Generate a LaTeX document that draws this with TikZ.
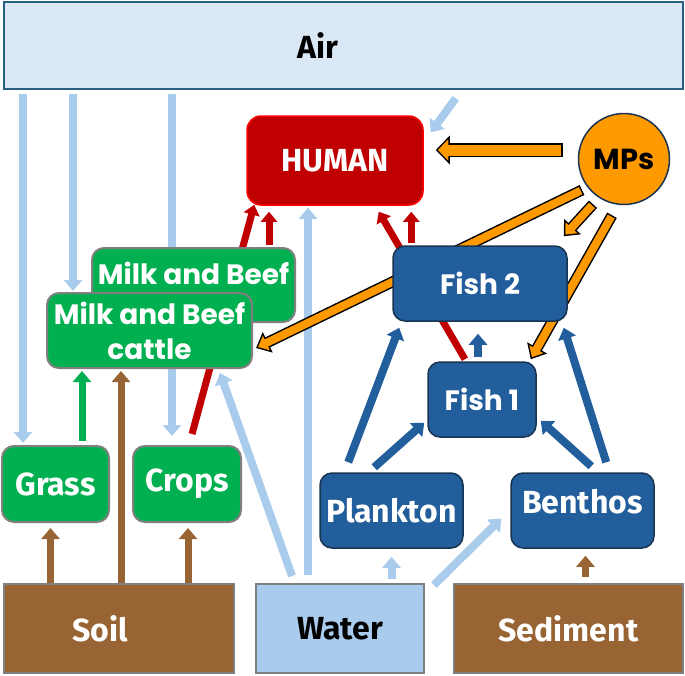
\documentclass[tikz,border=0pt]{standalone}
\usepackage{fontspec}
\setmainfont{Fira Sans}
\newfontfamily\popfont{Poppins}
\usepackage{tikz}
\usetikzlibrary{arrows.meta,calc,positioning,shapes}
\definecolor{aire}{RGB}{218,232,246}
\definecolor{aireBorde}{RGB}{40,96,130}
\definecolor{celeste}{RGB}{169,203,236}
\definecolor{rojo}{RGB}{192,0,0}
\definecolor{naranja}{RGB}{255,153,0}
\definecolor{verde}{RGB}{0,176,80}
\definecolor{azul}{RGB}{34,94,155}
\definecolor{azulOscuro}{RGB}{24,52,80}
\definecolor{marron}{RGB}{153,100,51}
\definecolor{grisBorde}{RGB}{128,128,128}
\pgfdeclarelayer{background}
\pgfsetlayers{background,main}
\tikzstyle{box}      =[rectangle, rounded corners=12pt, line width=1.5pt,
                       inner sep=0pt, align=center, text=white,
                       font=\fontsize{32pt}{38pt}\selectfont\bfseries]
\tikzstyle{pop}      =[font=\popfont\fontsize{28pt}{35pt}\selectfont\bfseries]
\tikzstyle{greenbox} =[box, fill=verde, draw=grisBorde, line width=2pt]
\tikzstyle{bluebox}  =[box, fill=azul, draw=azulOscuro]
\tikzstyle{groundbox}=[box, rounded corners=0pt, draw=grisBorde, line width=2pt,
                       minimum width=229pt, minimum height=89pt]
\tikzstyle{flow}     =[line width=8pt, -{Triangle[length=11pt,width=18pt]}]
\tikzstyle{airflow}  =[flow, celeste]
\tikzstyle{soilflow} =[flow, marron, line width=7pt]
\tikzstyle{eatflow}  =[flow, rojo, line width=7pt, -{Triangle[length=10pt,width=16pt]}]
\tikzstyle{fishflow} =[flow, azul]
\tikzstyle{mpsback}  =[black, line width=11pt, -{Triangle[length=13pt,width=22pt]}]
\tikzstyle{mpsfront} =[naranja, line width=8pt, shorten <=1.5pt, shorten >=2.3pt,
                       -{Triangle[length=9.2pt,width=15.6pt]}]

\begin{document}
\begin{tikzpicture}[x=1pt,y=-1pt]
    \useasboundingbox (0,0) rectangle (685,675);

    % compartments
    \draw (343.5,45.5) node (air) [box, rounded corners=0pt, fill=aire, draw=aireBorde,
        line width=2.5pt, text=black, minimum width=679pt, minimum height=87pt] {Air\hspace*{52pt}};
    \draw (335,160.5) node (human) [box, rounded corners=14pt, fill=rojo, draw=red,
        minimum width=176pt, minimum height=89pt] {HUMAN};
    \draw (624,159) node (mps) [circle, draw=azulOscuro, line width=1.5pt, fill=naranja,
        minimum size=91pt, inner sep=0pt,
        font=\popfont\fontsize{29pt}{35pt}\selectfont\bfseries] {MPs};

    \draw (193.5,285) node (beef) [greenbox, pop, minimum width=203pt, minimum height=74pt,
        text depth=23pt] {Milk and Beef};
    \draw (149.5,330.5) node (cattle) [greenbox, pop, minimum width=205pt,
        minimum height=75pt] {Milk and Beef\\cattle};
    \draw (55.5,484) node (grass) [greenbox, minimum width=107pt, minimum height=76pt] {Grass};
    \draw (187,484) node (crops) [greenbox, minimum width=108pt, minimum height=76pt] {Crops};

    \draw (480,283.5) node (fish2) [bluebox, pop, minimum width=174pt, minimum height=75pt] {Fish 2};
    \draw (482,399.5) node (fish1) [bluebox, pop, minimum width=108pt, minimum height=75pt] {Fish 1};
    \draw (391.5,510.5) node (plankton) [bluebox, minimum width=143pt, minimum height=75pt] {Plankton};
    \draw (582.5,510.5) node (benthos) [bluebox, minimum width=143pt, minimum height=75pt,
        text depth=18pt] {Benthos};

    \draw (119,628.5) node (soil) [groundbox, fill=marron, minimum width=230pt] {Soil\hspace*{38pt}};
    \draw (340,628.5) node (water) [groundbox, fill=celeste, text=black, minimum width=168pt] {Water};
    \draw (568.5,628.5) node (sediment) [groundbox, fill=marron] {Sediment};

    % end points of the transfers
    \coordinate (a1) at ($(grass.north west)+(22,-2)$);
    \coordinate (a2) at ($(cattle.north west)+(27,-1)$);
    \coordinate (a3) at ($(crops.north west)+(40,-9)$);
    \coordinate (w1) at ($(water.north west)+(53,-8)$);
    \coordinate (b1) at ($(grass.south)+(-5,0)$);
    \coordinate (b2) at ($(cattle.south west)+(75,0)$);
    \coordinate (b3) at ($(crops.south)+(1,0)$);
    \coordinate (b4) at ($(benthos.south)+(3,0)$);
    \coordinate (g1) at ($(grass.north west)+(81,0)$);
    \coordinate (r2) at ($(beef.north west)+(178,0)$);
    \coordinate (r3) at ($(fish2.north west)+(19,0)$);
    \coordinate (f1) at ($(fish1.north)+(-4,-4)$);
    \coordinate (m1) at ($(mps.center)+(-42,31)$);
    \coordinate (c1) at ($(cattle.east)+(3,17.5)$);
    \coordinate (m2) at ($(mps.south)+(-31,-1)$);
    \coordinate (c2) at ($(fish2.north east)+(-4,-9)$);
    \coordinate (m3) at ($(mps.south)+(-12,10)$);
    \coordinate (c3) at ($(fish1.north east)+(-6,-2)$);

    \begin{pgfonlayer}{background}
        % from the air and the water
        \foreach \i in {a1,a2,a3}
            \draw [airflow, shorten <=4pt] (\i |- air.south) -- (\i);
        \draw [airflow] ($(air.south west)+(453,8)$) -- ($(human.north east)+(7,17)$);
        \draw [airflow, shorten >=2pt] (w1) -- (w1 |- human.south);
        \draw [airflow] ($(water.north west)+(37,-7)$) -- ($(cattle.south east)+(-33,4)$);
        \draw [airflow, shorten <=4pt, shorten >=8pt] (plankton.south |- water.north) -- (plankton.south);
        \draw [airflow] ($(water.north east)+(9,2)$) -- ($(benthos.west)+(-9,8)$);

        % from the soil and the sediment
        \foreach \i/\s in {b1/5pt,b2/2pt,b3/5pt}
            \draw [soilflow, shorten >=\s] (\i |- soil.north) -- (\i);
        \draw [soilflow, shorten <=6pt, shorten >=7pt] (b4 |- sediment.north) -- (b4);
        \draw [soilflow, verde, shorten <=4pt, shorten >=2pt] (g1) -- (g1 |- cattle.south);

        % food to the human
        \draw [eatflow] ($(crops.north)+(5,-11)$) -- ($(human.south west)+(8,-1)$);
        \foreach \i in {r2,r3}
            \draw [eatflow, shorten <=2pt, shorten >=6pt] (\i) -- (\i |- human.south);
        \draw [eatflow] ($(fish1.north)+(-17,-2)$) -- ($(human.south east)+(-45,6)$);

        % food web in the water
        \draw [fishflow] ($(plankton.north west)+(29,-10)$) -- ($(fish2.south west)+(7,6)$);
        \draw [fishflow] ($(plankton.north west)+(55,-5)$) -- ($(fish1.south west)+(-3,-15)$);
        \draw [fishflow] ($(benthos.north west)+(81,-6)$) -- ($(fish1.south east)+(4,-17)$);
        \draw [fishflow] ($(benthos.north west)+(96,-10)$) -- ($(fish2.south east)+(-4,6)$);
        \draw [fishflow, shorten >=12pt] (f1) -- (f1 |- fish2.south);

        % microplastics
        \draw [mpsback, line width=14pt, -{Triangle[length=14pt,width=28pt]}]
            ($(mps.west)+(-15,-9)$) -- ($(human.east)+(12,-10.5)$);
        \draw [mpsfront, line width=11pt, shorten >=2.1pt, -{Triangle[length=10.4pt,width=20.8pt]}]
            ($(mps.west)+(-15,-9)$) -- ($(human.east)+(12,-10.5)$);
        \foreach \i/\j in {m1/c1,m2/c2,m3/c3} {
            \draw [mpsback] (\i) -- (\j);
            \draw [mpsfront] (\i) -- (\j);
        }
    \end{pgfonlayer}

\end{tikzpicture}
\end{document}
